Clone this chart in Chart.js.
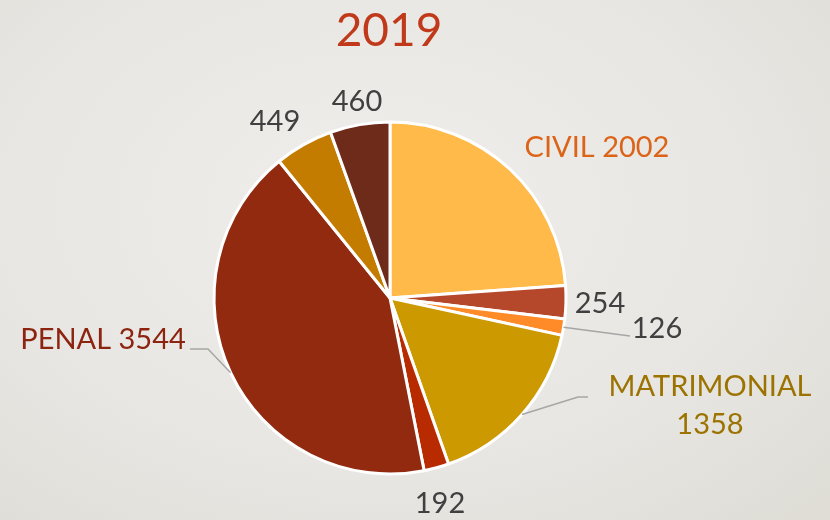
<!DOCTYPE html>
<html>
<head>
<meta charset="utf-8">
<script src="https://cdn.jsdelivr.net/npm/chart.js@4/dist/chart.umd.min.js"></script>
<style>
  html, body { margin: 0; padding: 0; }
  body {
    width: 830px; height: 520px; overflow: hidden;
    background: radial-gradient(ellipse at 45% 40%, #efeeec 0%, #e8e6e2 60%, #dedcd5 100%);
  }
  #chart { display: block; }
</style>
</head>
<body>
<canvas id="chart" width="830" height="520"></canvas>
<script>
// Datos 2019
const titulo = '2019';
const categorias = ['CIVIL', '', '', 'MATRIMONIAL', '', 'PENAL', '', ''];
const valores = [2002, 254, 126, 1358, 192, 3544, 449, 460];
const colores = ['#ffba49', '#b5472a', '#ff8a28', '#cc9900', '#b82a00', '#922a10', '#c47c00', '#6e2b1a'];

// Estilo de etiquetas (color de texto, desplazamiento desde el centro, guía)
const etiquetas = [
  { color: '#dc6418', dx: 207, dy: -150 },
  { color: '#404040', dx: 210, dy: 6 },
  { color: '#404040', dx: 267, dy: 31, guia: [[240, 38]] },
  { color: '#9c7300', dx: 320, dy: 89, dos: true, guia: [[188, 99], [198, 99]] },
  { color: '#404040', dx: 50, dy: 206 },
  { color: '#8c2410', dx: -287, dy: 42, guia: [[-182, 51], [-200, 51]] },
  { color: '#404040', dx: -115, dy: -176 },
  { color: '#404040', dx: -33, dy: -196 }
];

const fuente = 'Lato, "Open Sans", sans-serif';

const pluginEtiquetas = {
  id: 'etiquetas',
  afterDraw(chart) {
    const ctx = chart.ctx;
    const arcos = chart.getDatasetMeta(0).data;
    ctx.save();

    // Título
    ctx.fillStyle = '#c0391b';
    ctx.font = '46px ' + fuente;
    ctx.textAlign = 'center';
    ctx.textBaseline = 'middle';
    ctx.fillText(titulo, 389, 31);

    arcos.forEach((arco, i) => {
      const e = etiquetas[i];
      const cx = arco.x, cy = arco.y;
      const medio = (arco.startAngle + arco.endAngle) / 2;

      // Línea guía
      if (e.guia) {
        ctx.strokeStyle = '#a6a6a6';
        ctx.lineWidth = 1.5;
        ctx.beginPath();
        ctx.moveTo(cx + Math.cos(medio) * arco.outerRadius, cy + Math.sin(medio) * arco.outerRadius);
        e.guia.forEach(p => ctx.lineTo(cx + p[0], cy + p[1]));
        ctx.stroke();
      }

      ctx.fillStyle = e.color;
      ctx.font = '29px ' + fuente;
      const x = cx + e.dx, y = cy + e.dy;
      if (e.dos) {
        ctx.fillText(categorias[i], x, y);
        ctx.fillText(String(valores[i]), x, y + 38);
      } else {
        const txt = categorias[i] ? categorias[i] + ' ' + valores[i] : String(valores[i]);
        ctx.fillText(txt, x, y);
      }
    });
    ctx.restore();
  }
};

new Chart(document.getElementById('chart'), {
  type: 'pie',
  data: {
    labels: valores.map((v, i) => categorias[i] || String(v)),
    datasets: [{
      data: valores,
      backgroundColor: colores,
      borderColor: '#ffffff',
      borderWidth: 3
    }]
  },
  options: {
    responsive: false,
    animation: false,
    radius: 176,
    layout: { padding: { left: 0, right: 50, top: 76, bottom: 0 } },
    plugins: {
      legend: { display: false },
      tooltip: { enabled: false }
    }
  },
  plugins: [pluginEtiquetas]
});
</script>
</body>
</html>
